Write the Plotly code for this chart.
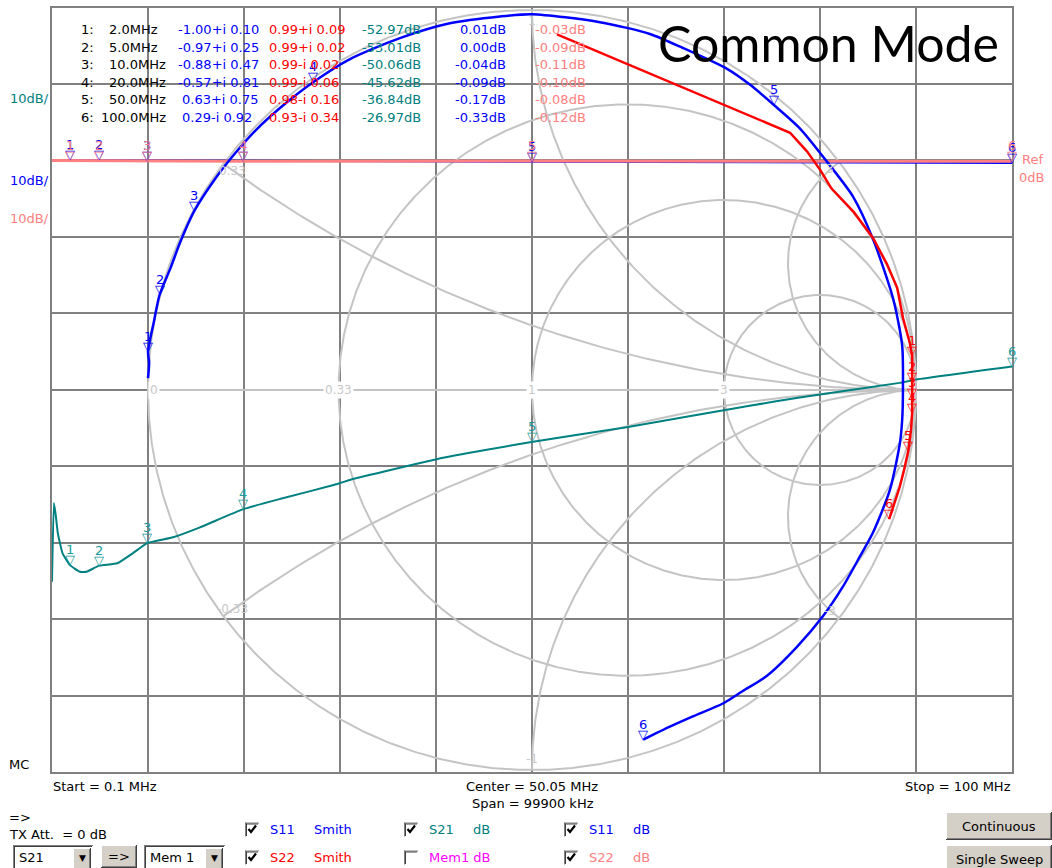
import numpy as np
import plotly.graph_objects as go

# ---------------------------------------------------------------- sweep setup
F_START, F_STOP = 0.1, 100.0          # MHz
DB_TOP, DB_BOTTOM = 20.0, -80.0       # 10 dB/div, Ref 0 dB on 2nd line

# ---------------------------------------------------------------- marker readout
MK_FREQ = [2.0, 5.0, 10.0, 20.0, 50.0, 100.0]
MK_S11_RE = [-1.00, -0.97, -0.88, -0.57, 0.63, 0.29]
MK_S11_IM = [0.10, 0.25, 0.47, 0.81, 0.75, -0.92]
MK_S22_RE = [0.99, 0.99, 0.99, 0.99, 0.98, 0.93]
MK_S22_IM = [0.09, 0.02, -0.02, -0.06, -0.16, -0.34]
MK_S21_DB = [-52.97, -53.01, -50.06, -45.62, -36.84, -26.97]
MK_S11_DB = [0.01, 0.00, -0.04, -0.09, -0.17, -0.33]
MK_S22_DB = [-0.03, -0.09, -0.11, -0.10, -0.08, -0.12]

# ---------------------------------------------------------------- S11 (Smith)
S11_RE = [-1.000, -0.997, -1.00, -0.984, -0.97, -0.941, -0.917, -0.88, -0.825,
          -0.778, -0.721, -0.654, -0.57, -0.474, -0.344, -0.214, -0.083, 0.000,
          0.177, 0.307, 0.393, 0.508, 0.568, 0.63, 0.698, 0.768, 0.836, 0.888,
          0.940, 0.964, 0.966, 0.964, 0.958, 0.932, 0.888, 0.854, 0.810, 0.758,
          0.690, 0.612, 0.549, 0.497, 0.419, 0.359, 0.29]
S11_IM = [0.031, 0.073, 0.10, 0.183, 0.25, 0.322, 0.387, 0.47, 0.556, 0.617,
          0.682, 0.744, 0.81, 0.871, 0.926, 0.965, 0.983, 0.989, 0.968, 0.937,
          0.900, 0.845, 0.803, 0.75, 0.688, 0.601, 0.509, 0.397, 0.242, 0.117,
          0.000, -0.079, -0.140, -0.263, -0.375, -0.438, -0.517, -0.595, -0.676,
          -0.752, -0.792, -0.825, -0.859, -0.886, -0.92]

# ---------------------------------------------------------------- S22 (Smith)
S22_RE = [0.065, 0.672, 0.716, 0.750, 0.780, 0.838, 0.888, 0.924, 0.951, 0.966,
          0.984, 0.99, 0.99, 0.99, 0.99, 0.987, 0.98, 0.969, 0.958, 0.93]
S22_IM = [0.936, 0.677, 0.628, 0.580, 0.530, 0.468, 0.400, 0.332, 0.269, 0.190,
          0.123, 0.09, 0.02, -0.02, -0.06, -0.105, -0.16, -0.210, -0.254, -0.34]

# ---------------------------------------------------------------- S21 (dB)
S21_F = [0.1, 0.3, 0.5, 0.7, 1.2, 2.0, 3.0, 3.7, 5.0, 6.9, 8.5, 10.0, 12.7, 15.5,
         20.0, 24.1, 29.3, 31.1, 40.8, 50.0, 59.9, 72.7, 77.9, 88.3, 89.9, 100.0]
S21_DB = [-55.1, -44.8, -46.5, -48.7, -51.4, -52.97, -53.8, -53.8, -53.01, -52.7,
          -51.4, -50.06, -49.3, -48.0, -45.62, -44.2, -42.5, -41.8, -38.9, -36.84,
          -34.9, -32.1, -31.0, -29.1, -28.7, -26.97]

# ---------------------------------------------------------------- S11 / S22 (dB)
LOSS_F = [0.1, 2.0, 5.0, 10.0, 20.0, 50.0, 100.0]
S11_DB = [0.02, 0.01, 0.00, -0.04, -0.09, -0.17, -0.33]
S22_DB = [-0.02, -0.03, -0.09, -0.11, -0.10, -0.08, -0.12]

# Smith grid values
R_CIRCLES = [0.33, 1, 3]
X_ARCS = [0.33, 1, 3]

# ---------------------------------------------------------------- geometry
W, H = 1052, 868
BOX_L, BOX_R, BOX_T, BOX_B = 52, 1012, 7.5, 772
SM_CX, SM_CY, SM_RX, SM_RY = 532, 390, 384, 380

BLUE, RED, TEAL, PINK, MAGENTA = "#0000ff", "#ff0000", "#008080", "#ff8080", "#ff00ff"
TEAL_MK = "#1a9a9a"
GRID, SMITH_GRAY, LABEL_GRAY = "#808080", "#c4c4c4", "#c8c8c8"
FACE = "#d4d0c8"
UI_FONT = "DejaVu Sans"


def PX(x):
    return x / W


def PY(y):
    return 1 - y / H


smith_x = [(BOX_L - SM_CX) / SM_RX, (BOX_R - SM_CX) / SM_RX]
smith_y = [(SM_CY - BOX_B) / SM_RY, (SM_CY - BOX_T) / SM_RY]

fig = go.Figure()

# ---------------------------------------------------------------- Smith chart grid
def gamma(z):
    return (z - 1) / (z + 1)

gx, gy = [], []
th = np.linspace(0, 2 * np.pi, 721)
gx += list(np.cos(th)) + [None]
gy += list(np.sin(th)) + [None]
gx += [-1, 1, None]
gy += [0, 0, None]
t = np.linspace(-np.pi / 2 + 1e-4, np.pi / 2 - 1e-4, 1201)
for r in R_CIRCLES:
    g = gamma(r + 1j * np.tan(t))
    gx += list(g.real) + [None]
    gy += list(g.imag) + [None]
rr = np.concatenate([np.linspace(0, 1, 200), np.logspace(0, 4, 300)])
for xv in X_ARCS:
    for s in (1, -1):
        g = gamma(rr + 1j * s * xv)
        gx += list(g.real) + [None]
        gy += list(g.imag) + [None]

fig.add_trace(go.Scatter(x=gx, y=gy, mode="lines", xaxis="x", yaxis="y",
                         line=dict(color=SMITH_GRAY, width=2), hoverinfo="skip"))

# ---------------------------------------------------------------- dB traces
fig.add_trace(go.Scatter(x=LOSS_F, y=S11_DB, mode="lines", xaxis="x2", yaxis="y2",
                         line=dict(color=BLUE, width=2)))
fig.add_trace(go.Scatter(x=LOSS_F, y=S22_DB, mode="lines", xaxis="x2", yaxis="y2",
                         line=dict(color=PINK, width=3)))
fig.add_trace(go.Scatter(x=S21_F, y=S21_DB, mode="lines", xaxis="x2", yaxis="y2",
                         line=dict(color=TEAL, width=2, shape="spline", smoothing=0.4)))

# ---------------------------------------------------------------- Smith traces
fig.add_trace(go.Scatter(x=S11_RE, y=S11_IM, mode="lines", xaxis="x3", yaxis="y3",
                         line=dict(color=BLUE, width=2.5, shape="spline", smoothing=0.7)))
fig.add_trace(go.Scatter(x=S22_RE, y=S22_IM, mode="lines", xaxis="x3", yaxis="y3",
                         line=dict(color=RED, width=2.5)))

ann = []
shapes = []


def text(x, y, s, color="black", size=13, xanchor="left", yanchor="middle",
         family=UI_FONT, bg=None):
    d = dict(x=PX(x), y=PY(y), xref="paper", yref="paper", text=s, showarrow=False,
             xanchor=xanchor, yanchor=yanchor, borderpad=0,
             font=dict(family=family, size=size, color=color))
    if bg:
        d["bgcolor"] = bg
    ann.append(d)


# Smith grid labels
for r in R_CIRCLES:
    g = (r - 1) / (r + 1)
    ann.append(dict(x=g, y=0, xref="x", yref="y", text=f"{r:g}", showarrow=False,
                    xanchor="center", yanchor="middle", bgcolor="white", borderpad=1,
                    font=dict(family=UI_FONT, size=12, color=LABEL_GRAY)))
ann.append(dict(x=-1, y=0, xref="x", yref="y", text="0", showarrow=False,
                xanchor="left", yanchor="middle", bgcolor="white", borderpad=1,
                font=dict(family=UI_FONT, size=12, color=LABEL_GRAY)))
for xv in X_ARCS:
    for s in (1, -1):
        g = gamma(1j * s * xv) * 0.97
        ann.append(dict(x=g.real, y=g.imag, xref="x", yref="y",
                        text=f"{s * xv:g}", showarrow=False,
                        xanchor="center", yanchor="middle",
                        font=dict(family=UI_FONT, size=12, color=LABEL_GRAY)))


# sweep markers: number over an open down-triangle whose tip sits on the point
def marker(x, y, n, color, xref, yref):
    ann.append(dict(x=x, y=y, xref=xref, yref=yref, text="▽", showarrow=False,
                    xanchor="center", yanchor="bottom", yshift=-4,
                    font=dict(family=UI_FONT, size=13, color=color)))
    ann.append(dict(x=x, y=y, xref=xref, yref=yref, text=str(n), showarrow=False,
                    xanchor="center", yanchor="bottom", yshift=6,
                    font=dict(family=UI_FONT, size=13, color=color)))


for i, f in enumerate(MK_FREQ):
    marker(f, MK_S11_DB[i], i + 1, BLUE, "x2", "y2")
for i, f in enumerate(MK_FREQ):
    marker(f, MK_S22_DB[i], i + 1, PINK, "x2", "y2")
for i, f in enumerate(MK_FREQ):
    marker(f, MK_S21_DB[i], i + 1, TEAL_MK, "x2", "y2")
for i in range(len(MK_FREQ)):
    marker(MK_S11_RE[i], MK_S11_IM[i], i + 1, BLUE, "x3", "y3")
for i in range(len(MK_FREQ)):
    marker(MK_S22_RE[i], MK_S22_IM[i], i + 1, RED, "x3", "y3")


# marker table
def cplx(re, im):
    return f"{re:.2f}{'+' if im >= 0 else '-'}i {abs(im):.2f}"


for i, f in enumerate(MK_FREQ):
    y = 29.5 + 17.6 * i
    text(80, y, f"{i + 1}:")
    text(108 if f < 100 else 100, y, f"{f:.1f}MHz")
    text(177 if MK_S11_RE[i] < 0 else 181, y, cplx(MK_S11_RE[i], MK_S11_IM[i]), BLUE)
    text(268, y, cplx(MK_S22_RE[i], MK_S22_IM[i]), RED)
    text(422, y, f"{MK_S21_DB[i]:.2f}dB", TEAL, xanchor="right")
    text(507, y, f"{MK_S11_DB[i]:.2f}dB", BLUE, xanchor="right")
    text(587, y, f"{MK_S22_DB[i]:.2f}dB", PINK, xanchor="right")

# scale labels
text(9, 99, "10dB/", TEAL)
text(9, 180, "10dB/", BLUE)
text(9, 219, "10dB/", PINK)
text(1021, 159, "Ref", PINK)
text(1018, 178, "0dB", PINK)

text(657, 43, "Common Mode", "black", size=50, family="Lato")

text(8, 764, "MC")
text(52, 786, "Start = 0.1 MHz")
text(532, 786, "Center = 50.05 MHz", xanchor="center")
text(533, 803, "Span = 99900 kHz", xanchor="center")
text(1012, 786, "Stop = 100 MHz", xanchor="right")

# ---------------------------------------------------------------- control strip
def rect(x0, y0, x1, y1, fill, line=None, lw=1):
    shapes.append(dict(type="rect", xref="paper", yref="paper",
                       x0=PX(x0), x1=PX(x1), y0=PY(y1), y1=PY(y0),
                       fillcolor=fill, line=dict(color=line or fill, width=lw if line else 0),
                       layer="above"))


def seg(x0, y0, x1, y1, color, lw=1):
    shapes.append(dict(type="line", xref="paper", yref="paper",
                       x0=PX(x0), x1=PX(x1), y0=PY(y0), y1=PY(y1),
                       line=dict(color=color, width=lw), layer="above"))


def button(x0, y0, x1, y1, label, size=13):
    rect(x0, y0, x1, y1, FACE)
    seg(x0, y0 + 0.5, x1, y0 + 0.5, "white")
    seg(x0 + 0.5, y0, x0 + 0.5, y1, "white")
    seg(x0, y1 - 0.5, x1, y1 - 0.5, "#404040")
    seg(x1 - 0.5, y0, x1 - 0.5, y1, "#404040")
    seg(x0 + 1, y1 - 1.5, x1 - 1, y1 - 1.5, GRID)
    seg(x1 - 1.5, y0 + 1, x1 - 1.5, y1 - 1, GRID)
    if label:
        text((x0 + x1) / 2, (y0 + y1) / 2, label, xanchor="center", size=size)


def dropdown(x0, y0, x1, y1, label):
    rect(x0, y0, x1, y1, "white")
    seg(x0, y0 + 0.5, x1, y0 + 0.5, GRID)
    seg(x0 + 0.5, y0, x0 + 0.5, y1, GRID)
    seg(x0 + 1, y0 + 1.5, x1 - 1, y0 + 1.5, "#404040")
    seg(x0 + 1.5, y0 + 1, x0 + 1.5, y1, "#404040")
    text(x0 + 5, (y0 + y1) / 2 + 1, label)
    button(x1 - 20, y0 + 3, x1 - 2, y1 + 2, "")
    text(x1 - 11, (y0 + y1) / 2 + 1, "▼", size=9, xanchor="center")


def checkbox(x, y, checked, label, unit, color, unit_x):
    rect(x, y - 6.5, x + 14, y + 7.5, "white")
    seg(x, y - 6, x + 14, y - 6, GRID)
    seg(x + 0.5, y - 6.5, x + 0.5, y + 7.5, GRID)
    seg(x + 1, y - 5, x + 13, y - 5, "#404040")
    seg(x + 1.5, y - 5.5, x + 1.5, y + 7, "#404040")
    if checked:
        shapes.append(dict(type="path", xref="paper", yref="paper", layer="above",
                           path=f"M {PX(x + 3.5)},{PY(y)} L {PX(x + 6)},{PY(y + 3)} "
                                f"L {PX(x + 11)},{PY(y - 3.5)}",
                           line=dict(color="black", width=2.2)))
    text(x + 24, y, label, color)
    if unit:
        text(unit_x, y, unit, color)


text(8, 817, "=>")
text(8, 834, "TX Att.  = 0 dB")
dropdown(13, 845, 93, 868, "S21")
button(101, 845, 137, 868, "=>")
dropdown(144, 845, 225, 868, "Mem 1")

checkbox(245, 829, True, "S11", "Smith", BLUE, 313)
checkbox(245, 857, True, "S22", "Smith", RED, 313)
checkbox(404, 829, True, "S21", "dB", TEAL, 472)
checkbox(404, 857, False, "Mem1 dB", None, MAGENTA, 0)
checkbox(564, 829, True, "S11", "dB", BLUE, 632)
checkbox(564, 857, True, "S22", "dB", PINK, 632)

button(946, 812, 1052, 840, "Continuous")
button(946, 845, 1052, 874, "Single Sweep")

# ---------------------------------------------------------------- layout
hidden = dict(visible=False, fixedrange=True)
fig.update_layout(
    width=W, height=H, margin=dict(l=0, r=0, t=0, b=0),
    paper_bgcolor="white", plot_bgcolor="white", showlegend=False,
    xaxis=dict(domain=[PX(BOX_L), PX(BOX_R)], range=smith_x, **hidden),
    yaxis=dict(domain=[PY(BOX_B), PY(BOX_T)], range=smith_y, **hidden),
    xaxis2=dict(overlaying="x", anchor="y2", range=[F_START, F_STOP], tick0=F_START,
                dtick=(F_STOP - F_START) / 10, showgrid=True, gridcolor=GRID, gridwidth=2,
                showticklabels=False, ticks="", zeroline=False, showline=True,
                mirror=True, linecolor=GRID, linewidth=2, fixedrange=True),
    yaxis2=dict(overlaying="y", anchor="x2", range=[DB_BOTTOM, DB_TOP], tick0=0, dtick=10,
                showgrid=True, gridcolor=GRID, gridwidth=2, showticklabels=False,
                ticks="", zeroline=False, showline=True, mirror=True,
                linecolor=GRID, linewidth=2, fixedrange=True),
    xaxis3=dict(overlaying="x", anchor="y3", range=smith_x, **hidden),
    yaxis3=dict(overlaying="y", anchor="x3", range=smith_y, **hidden),
    annotations=ann, shapes=shapes,
)

fig.write_html("out.html")
